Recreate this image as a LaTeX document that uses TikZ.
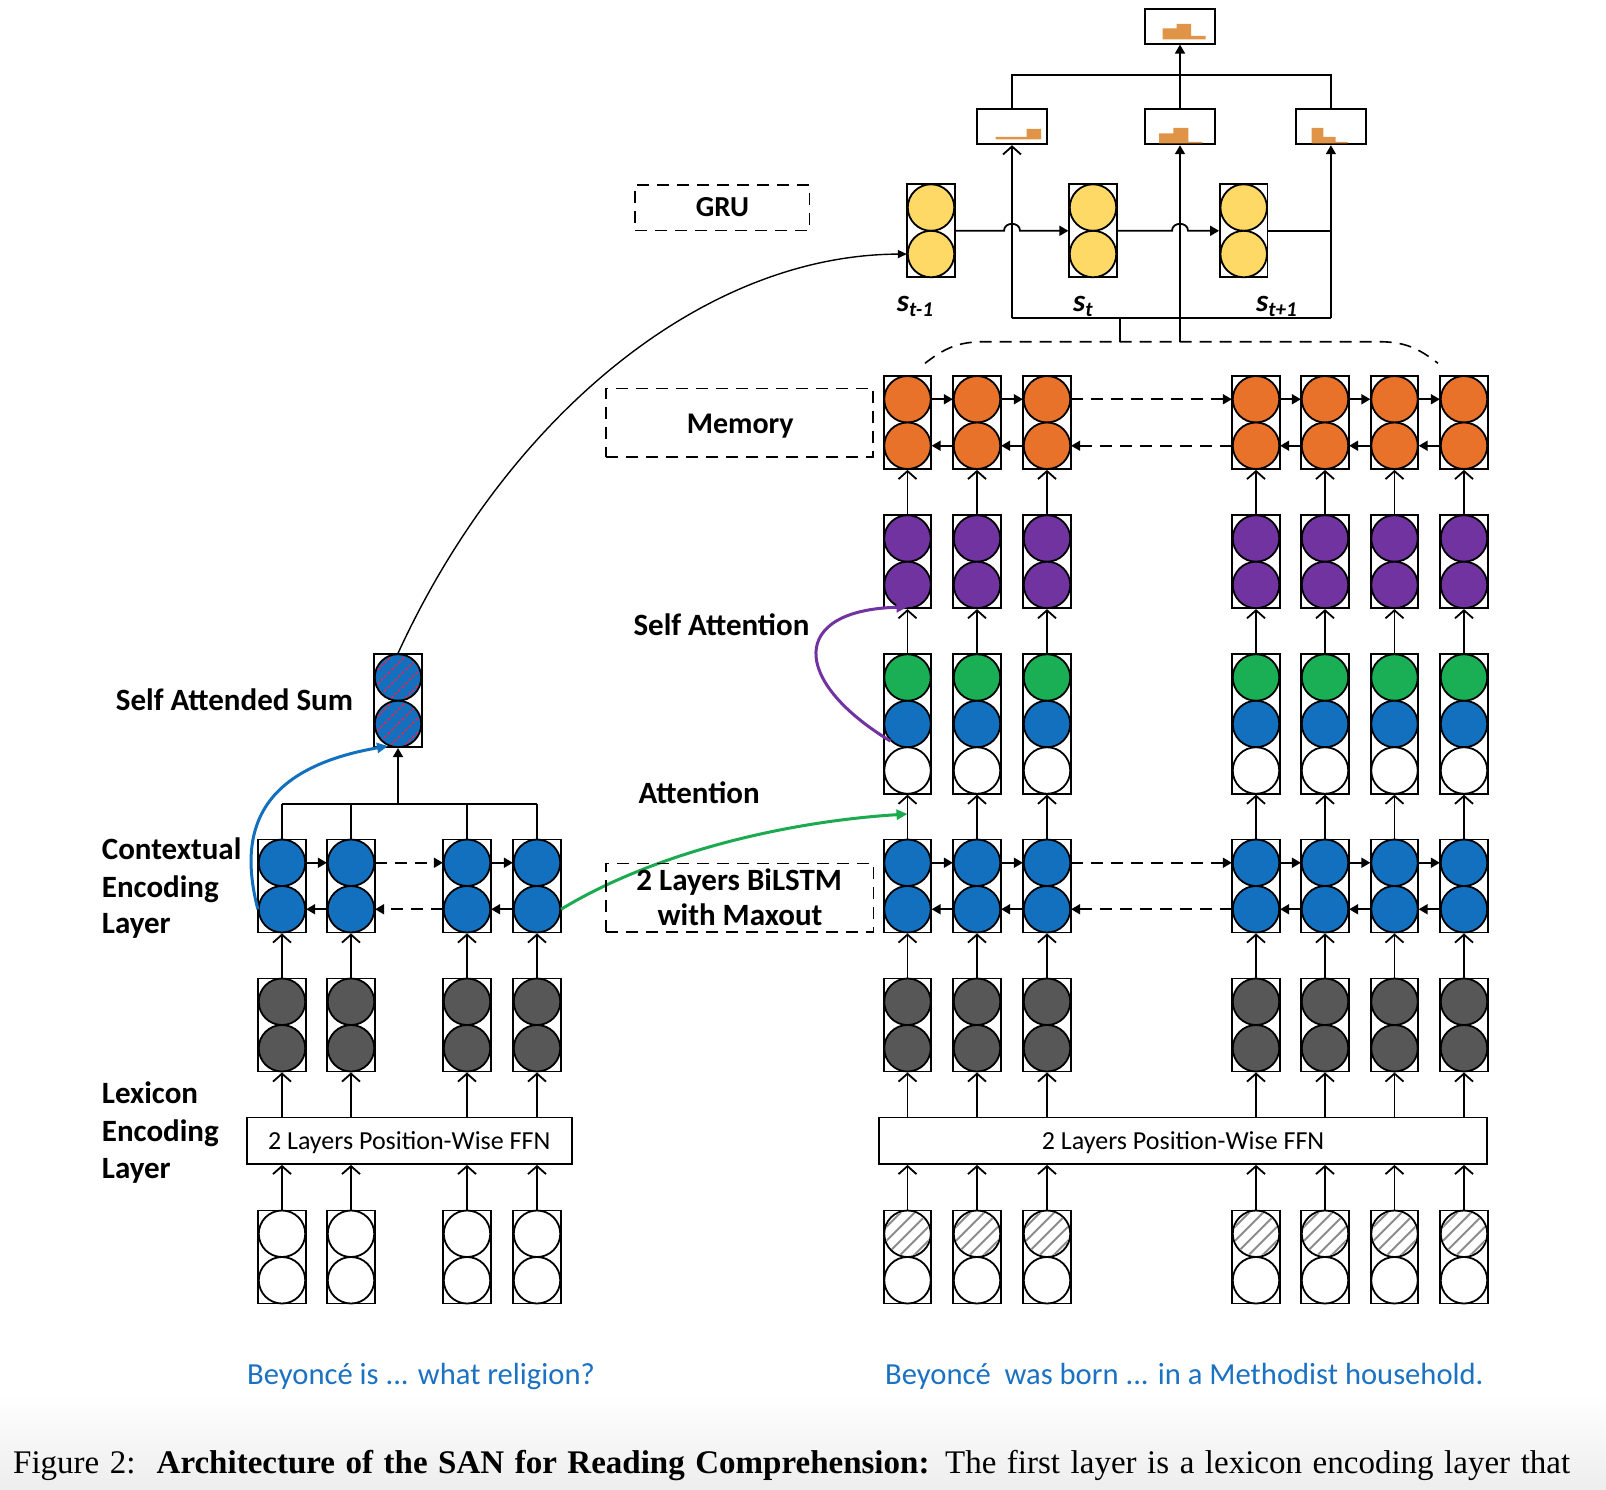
\documentclass[tikz,border=0pt]{standalone}
\usepackage{fontspec}
\setmainfont{Carlito}
\newfontfamily\capfont{Liberation Serif}
\usetikzlibrary{arrows.meta,calc}

\definecolor{cblue}{HTML}{1270BE}
\definecolor{cgray}{HTML}{575757}
\definecolor{cgreen}{HTML}{1AAE55}
\definecolor{cpurple}{HTML}{7033A0}
\definecolor{corange}{HTML}{E8722A}
\definecolor{cyellow}{HTML}{FFD966}
\definecolor{cbar}{HTML}{DF9447}
\definecolor{ctext}{HTML}{1C72C2}
\definecolor{chatch}{HTML}{D42A5C}
\definecolor{cgreenline}{HTML}{1BAA50}

\tikzset{
  cellbox/.style={draw, line width=1.8pt, minimum width=47.5pt, inner sep=0pt, fill=white},
  cell/.style={circle, draw, line width=1.8pt, minimum size=46.5pt, inner sep=0pt},
  plain/.style={line width=1.8pt},
  upflow/.style={line width=1.8pt, -{Straight Barb[length=8pt,width=18pt]}},
  fwd/.style={line width=1.8pt, -{Triangle[length=9pt,width=10pt]}},
  fwddash/.style={fwd, dash pattern=on 12pt off 8pt},
  dashbox/.style={draw, line width=1.6pt, dash pattern=on 12pt off 8pt},
  ffn/.style={draw, line width=1.8pt, fill=white, minimum height=46.5pt, inner sep=0pt,
    font=\fontsize{26}{30}\selectfont},
  distbox/.style={draw, line width=1.8pt, inner sep=0pt, fill=white},
  lbl/.style={font=\fontsize{31}{36}\selectfont\bfseries, inner sep=0pt, anchor=base west},
  clbl/.style={lbl, anchor=base},
  hatchgray/.style={line width=2pt, draw=black!45},
  hatchred/.style={line width=1.6pt, draw=chatch, dash pattern=on 3pt off 2pt},
  flowcurve/.style={line width=3pt, -{Triangle[length=11pt,width=10pt]}},
}

% a box holding two stacked units
\newcommand\twocell[5]{%
  \node[cellbox, minimum height=93pt] (#1) at (#2,#3) {};
  \node[cell, fill=#4] (#1-a) at (#2,#3-23.25) {};
  \node[cell, fill=#5] (#1-b) at (#2,#3+23.25) {};}
% a box holding three stacked units
\newcommand\threecell[6]{%
  \node[cellbox, minimum height=139.5pt] (#1) at (#2,#3) {};
  \node[cell, fill=#4] (#1-a) at (#2,#3-46.5) {};
  \node[cell, fill=#5] (#1-b) at (#2,#3) {};
  \node[cell, fill=#6] (#1-c) at (#2,#3+46.5) {};}
% diagonal stripes inside a unit
\newcommand\hatchcell[2]{%
  \begin{scope}
    \clip (#1.center) circle (22pt);
    \foreach \hh in {-42,-28,...,42}
      \draw[#2] ($(#1.center)+(\hh-28,28)$) -- ($(#1.center)+(\hh+28,-28)$);
  \end{scope}}
% text set on the box centre line, baseline lowered
\newcommand\ffntext[1]{\raisebox{-9pt}[0pt][0pt]{#1}}

\begin{document}
\begin{tikzpicture}[x=1pt,y=-1pt]
\fill[white] (0,0) rectangle (1606,1490);
\shade[top color=white, bottom color=black!7] (0,1392) rectangle (1606,1490);
\useasboundingbox (0,0) rectangle (1606,1490);

% ---------- question side ----------
\foreach \x [count=\i] in {282,351,467,537} {
  \twocell{Lin\i}{\x}{1257}{white}{white}
  \twocell{Lg\i}{\x}{1025}{cgray}{cgray}
  \twocell{Lc\i}{\x}{886}{cblue}{cblue}
}
\node[ffn, minimum width=325pt] (Lffn) at (409.2,1140.75) {\ffntext{2 Layers Position-Wise FFN}};
\twocell{SA}{398}{700.7}{cblue}{cblue}
\hatchcell{SA-a}{hatchred}
\hatchcell{SA-b}{hatchred}
\coordinate (tree) at (398,804.3);

% ---------- passage side ----------
\foreach \x [count=\i] in {907.5,977,1047,1256,1325,1394.5,1464} {
  \twocell{Rin\i}{\x}{1257}{white}{white}
  \hatchcell{Rin\i-a}{hatchgray}
  \twocell{Rg\i}{\x}{1025}{cgray}{cgray}
  \twocell{Rc\i}{\x}{886}{cblue}{cblue}
  \threecell{Ra\i}{\x}{724}{cgreen}{cblue}{white}
  \twocell{Rs\i}{\x}{561.7}{cpurple}{cpurple}
  \twocell{Rm\i}{\x}{422.5}{corange}{corange}
}
\node[ffn, minimum width=607.8pt] (Rffn) at (1183.1,1140.75) {\ffntext{2 Layers Position-Wise FFN}};

% ---------- GRU answer module ----------
\twocell{G1}{931}{230.8}{cyellow}{cyellow}
\twocell{G2}{1093}{230.8}{cyellow}{cyellow}
\twocell{G3}{1243.7}{230.8}{cyellow}{cyellow}
\node[distbox, minimum width=70.6pt, minimum height=35.3pt] (D1) at (1012,126.7) {};
\node[distbox, minimum width=70pt, minimum height=35.3pt] (D2) at (1180,126.7) {};
\node[distbox, minimum width=70.3pt, minimum height=35.3pt] (D3) at (1330.9,126.7) {};
\node[distbox, minimum width=70pt, minimum height=34.7pt] (Dtop) at (1180,26.35) {};
% probability bars
\fill[cbar] (995.7,136.8) rectangle (1026.7,139.3) (1026.7,129) rectangle (1041,139.3);
\fill[cbar] (1159,133.3) rectangle (1173.3,143.4) (1173.3,128) rectangle (1188.3,143.4)
            (1188.3,141.8) rectangle (1202.3,143.4);
\fill[cbar] (1311.7,128) rectangle (1323.3,143.4) (1323.3,137) rectangle (1335.7,143.4)
            (1335.7,141.8) rectangle (1347.7,143.4);
\fill[cbar] (1162.7,28.3) rectangle (1176.7,39.3) (1176.7,24) rectangle (1191,39.3)
            (1191,36) rectangle (1205.7,39.3);

\coordinate (bus) at (1180,318.3);
\coordinate (ttop) at (1180,75);
\coordinate (arctop) at (1180,341.7);

\draw[fwd] (G1.east) -- (1004,230.8) .. controls (1004,221.5) and (1020,221.5) .. (1020,230.8) -- (G2.west);
\draw[fwd] (G2.east) -- (1172,230.8) .. controls (1172,221.5) and (1188,221.5) .. (1188,230.8) -- (G3.west);
\draw[plain] (G3.east) -- (G3.east -| D3.south);
\draw[plain] (D1.south |- bus) -- (D3.south |- bus);
\draw[upflow] (D1.south |- bus) -- (D1.south);
\draw[fwd] (D2.south |- arctop) -- (D2.south);
\draw[fwd] (D3.south |- bus) -- (D3.south);
\draw[plain] (1119.6,318.3) -- (1119.6,341.7);
\draw[plain] (D1.north) |- (D3.north |- ttop) -- (D3.north);
\draw[fwd] (D2.north) -- (Dtop.south);
\draw[dashbox] (925,363.3) .. controls (945,348) and (958,341.7) .. (985,341.7)
  -- (1378,341.7) .. controls (1405,341.7) and (1418,348) .. (1438,363.3);

\node[lbl] (s1) at (896.7,311.7) {\itshape s\raisebox{-5pt}{\fontsize{21}{21}\selectfont t-1}};
\node[lbl] (s2) at (1073,311.7) {\itshape s\raisebox{-5pt}{\fontsize{21}{21}\selectfont t}};
\node[lbl] (s3) at (1256,311.7) {\itshape s\raisebox{-5pt}{\fontsize{21}{21}\selectfont t+1}};

% ---------- vertical flows ----------
\foreach \i in {1,...,4} {
  \draw[upflow] (Lin\i.north) -- (Lin\i.north |- Lffn.south);
  \draw[upflow] (Lg\i.south |- Lffn.north) -- (Lg\i.south);
  \draw[upflow] (Lg\i.north) -- (Lc\i.south);
  \draw[plain] (Lc\i.north) -- (Lc\i.north |- tree);
}
\draw[plain] (Lc1.north |- tree) -- (Lc4.north |- tree);
\draw[fwd] (SA.south |- tree) -- (SA.south);

\foreach \i in {1,...,7} {
  \draw[upflow] (Rin\i.north) -- (Rin\i.north |- Rffn.south);
  \draw[upflow] (Rg\i.south |- Rffn.north) -- (Rg\i.south);
  \draw[upflow] (Rg\i.north) -- (Rc\i.south);
  \draw[upflow] (Rc\i.north) -- (Ra\i.south);
  \draw[upflow] (Ra\i.north) -- (Rs\i.south);
  \draw[upflow] (Rs\i.north) -- (Rm\i.south);
}

% ---------- recurrent links ----------
\foreach \i/\j in {1/2,3/4} {
  \draw[fwd] (Lc\i-a.east) -- (Lc\j-a.west);
  \draw[fwd] (Lc\j-b.west) -- (Lc\i-b.east);
}
\draw[fwddash] (Lc2-a.east) -- (Lc3-a.west);
\draw[fwddash] (Lc3-b.west) -- (Lc2-b.east);

\foreach \r in {Rc,Rm} {
  \foreach \i/\j in {1/2,2/3,4/5,5/6,6/7} {
    \draw[fwd] (\r\i-a.east) -- (\r\j-a.west);
    \draw[fwd] (\r\j-b.west) -- (\r\i-b.east);
  }
  \draw[fwddash] (\r3-a.east) -- (\r4-a.west);
  \draw[fwddash] (\r4-b.west) -- (\r3-b.east);
}

% ---------- attention curves ----------
\draw[flowcurve, cblue] (Lc1-b.west) .. controls (240,840) and (250,770) .. (388,746);
\draw[flowcurve, cgreenline] (Lc4-b.east) .. controls (650,855) and (780,822) .. (Rc1.north |- 0,814);
\draw[flowcurve, cpurple] (Ra1-b.south west) .. controls (790,680) and (790,610) .. (Ra1.north |- 0,607);
\draw[line width=1.4pt, -{Triangle[length=9pt,width=8pt]}] (SA.north) .. controls (505,420) and (700,255) .. (G1-b.west);

% ---------- layer labels ----------
\node[dashbox, minimum width=174.3pt, minimum height=45.3pt] (gru) at (722.2,207.7) {};
\node[clbl, font=\fontsize{29}{34}\selectfont\bfseries] at (722.5,216.7) {GRU};
\node[dashbox, minimum width=266.7pt, minimum height=68.4pt] (mem) at (739.35,422.5) {};
\node[clbl, font=\fontsize{30}{36}\selectfont\bfseries] at (740.3,433.3) {Memory};
\node[dashbox, minimum width=267.3pt, minimum height=68.4pt] (bil) at (739.65,897.5) {};
\node[clbl] at (739.2,890) {2 Layers BiLSTM};
\node[clbl] at (740,925) {with Maxout};

\node[lbl] at (115.7,710.7) {Self Attended Sum};
\node[lbl] at (633.3,635) {Self Attention};
\node[lbl] at (638.3,803.3) {Attention};
\node[lbl] at (101.7,859.3) {Contextual};
\node[lbl] at (101.7,897.5) {Encoding};
\node[lbl] at (101.7,933.3) {Layer};
\node[lbl] at (101.7,1103.3) {Lexicon};
\node[lbl] at (101.7,1141.7) {Encoding};
\node[lbl] at (101.7,1178.3) {Layer};

\node[anchor=base west, inner sep=0pt, text=ctext, font=\fontsize{30.6}{36}\selectfont] (q) at (247,1384) {Beyoncé is ... what religion?};
\node[anchor=base west, inner sep=0pt, text=ctext, font=\fontsize{30.6}{36}\selectfont] (p) at (885,1384) {Beyoncé\ \ was born ... in a Methodist household.};

\node[anchor=base west, inner sep=0pt, font=\capfont\fontsize{33}{38}\selectfont] (cap) at (13,1473)
  {\makebox[1557pt][s]{Figure 2:\ \ \textbf{Architecture of the SAN for Reading Comprehension:} The first layer is a lexicon encoding layer that}};
\end{tikzpicture}
\end{document}
